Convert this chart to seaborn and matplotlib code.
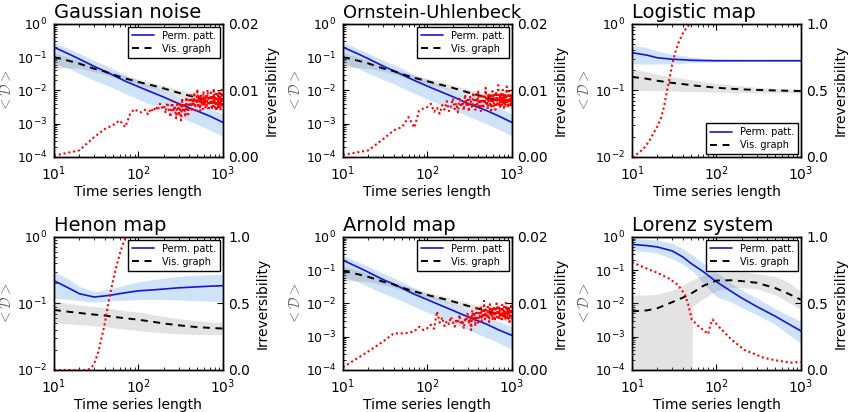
import matplotlib
matplotlib.use("Agg")
import matplotlib.pyplot as plt
import seaborn as sns
from matplotlib.ticker import FixedLocator, FormatStrFormatter, LogLocator

# ------------------------------------------------------------------ data
titles = ["Gaussian noise", "Ornstein-Uhlenbeck", "Logistic map",
          "Henon map", "Arnold map", "Lorenz system"]

x_len = [10, 15, 20, 30, 40, 50, 70, 100, 150, 200, 300, 500, 700, 1000]

# Gaussian noise
gauss_pp = [0.20, 0.125, 0.088, 0.053, 0.038, 0.029, 0.019, 0.013, 0.0085, 0.0063, 0.0040, 0.0024, 0.0017, 0.0011]
gauss_pp_lo = [0.065, 0.045, 0.032, 0.020, 0.015, 0.012, 0.008, 0.0054, 0.0035, 0.0026, 0.0016, 0.00095, 0.00065, 0.00042]
gauss_pp_hi = [0.28, 0.18, 0.13, 0.08, 0.058, 0.045, 0.029, 0.020, 0.013, 0.0098, 0.0066, 0.0041, 0.0029, 0.0020]
gauss_vg = [0.10, 0.078, 0.064, 0.045, 0.037, 0.030, 0.023, 0.018, 0.014, 0.0115, 0.0085, 0.0060, 0.0047, 0.0036]
gauss_vg_lo = [0.050, 0.048, 0.047, 0.036, 0.030, 0.025, 0.019, 0.015, 0.0115, 0.0093, 0.0068, 0.0046, 0.0036, 0.0026]
gauss_vg_hi = [0.14, 0.10, 0.080, 0.054, 0.044, 0.036, 0.028, 0.022, 0.017, 0.014, 0.0105, 0.0076, 0.0062, 0.0050]

# Ornstein-Uhlenbeck
ou_pp = [0.20, 0.127, 0.090, 0.054, 0.039, 0.030, 0.020, 0.0135, 0.0088, 0.0065, 0.0041, 0.0025, 0.0017, 0.0011]
ou_pp_lo = [0.066, 0.046, 0.033, 0.021, 0.016, 0.012, 0.0082, 0.0055, 0.0036, 0.0027, 0.0017, 0.0010, 0.00068, 0.00043]
ou_pp_hi = [0.29, 0.18, 0.13, 0.081, 0.059, 0.046, 0.030, 0.021, 0.0135, 0.010, 0.0067, 0.0042, 0.0030, 0.0020]
ou_vg = [0.10, 0.079, 0.065, 0.046, 0.038, 0.031, 0.024, 0.019, 0.0145, 0.012, 0.0088, 0.0062, 0.0049, 0.0038]
ou_vg_lo = [0.050, 0.049, 0.047, 0.037, 0.031, 0.026, 0.020, 0.0155, 0.012, 0.0096, 0.0070, 0.0048, 0.0037, 0.0027]
ou_vg_hi = [0.14, 0.10, 0.081, 0.055, 0.045, 0.037, 0.029, 0.023, 0.018, 0.0145, 0.011, 0.0078, 0.0064, 0.0052]

# Logistic map
log_pp = [0.37, 0.34, 0.31, 0.295, 0.29, 0.285, 0.282, 0.28, 0.28, 0.28, 0.28, 0.28, 0.28, 0.28]
log_pp_lo = [0.25, 0.25, 0.25, 0.255, 0.258, 0.262, 0.266, 0.27, 0.272, 0.273, 0.274, 0.275, 0.275, 0.275]
log_pp_hi = [0.48, 0.44, 0.39, 0.35, 0.335, 0.32, 0.305, 0.298, 0.293, 0.29, 0.288, 0.286, 0.285, 0.285]
log_vg = [0.16, 0.15, 0.14, 0.13, 0.125, 0.12, 0.115, 0.11, 0.106, 0.104, 0.102, 0.10, 0.099, 0.098]
log_vg_lo = [0.10, 0.10, 0.10, 0.098, 0.097, 0.096, 0.095, 0.094, 0.093, 0.093, 0.092, 0.092, 0.091, 0.091]
log_vg_hi = [0.21, 0.19, 0.175, 0.16, 0.152, 0.145, 0.135, 0.128, 0.121, 0.117, 0.112, 0.108, 0.106, 0.105]

# Henon map
hen_pp = [0.22, 0.17, 0.14, 0.125, 0.13, 0.135, 0.145, 0.155, 0.16, 0.165, 0.172, 0.178, 0.182, 0.185]
hen_pp_lo = [0.12, 0.115, 0.11, 0.105, 0.107, 0.11, 0.112, 0.115, 0.115, 0.115, 0.113, 0.11, 0.108, 0.107]
hen_pp_hi = [0.30, 0.23, 0.18, 0.15, 0.16, 0.17, 0.19, 0.21, 0.23, 0.24, 0.255, 0.265, 0.27, 0.275]
hen_vg = [0.080, 0.075, 0.072, 0.068, 0.066, 0.063, 0.060, 0.057, 0.053, 0.050, 0.047, 0.044, 0.043, 0.042]
hen_vg_lo = [0.050, 0.049, 0.048, 0.046, 0.045, 0.043, 0.041, 0.039, 0.037, 0.036, 0.035, 0.034, 0.034, 0.034]
hen_vg_hi = [0.107, 0.100, 0.095, 0.090, 0.087, 0.083, 0.078, 0.074, 0.068, 0.064, 0.059, 0.055, 0.053, 0.052]

# Arnold map
arn_pp = [0.20, 0.124, 0.087, 0.052, 0.038, 0.029, 0.019, 0.013, 0.0084, 0.0062, 0.0040, 0.0024, 0.0016, 0.0011]
arn_pp_lo = [0.064, 0.045, 0.032, 0.020, 0.015, 0.012, 0.008, 0.0054, 0.0035, 0.0026, 0.0016, 0.00095, 0.00065, 0.00042]
arn_pp_hi = [0.28, 0.18, 0.13, 0.08, 0.058, 0.045, 0.029, 0.020, 0.013, 0.0098, 0.0066, 0.0041, 0.0029, 0.0020]
arn_vg = [0.095, 0.076, 0.063, 0.045, 0.037, 0.030, 0.023, 0.018, 0.014, 0.0115, 0.0085, 0.0060, 0.0047, 0.0036]
arn_vg_lo = [0.048, 0.047, 0.046, 0.036, 0.030, 0.025, 0.019, 0.015, 0.0115, 0.0093, 0.0068, 0.0046, 0.0036, 0.0026]
arn_vg_hi = [0.13, 0.10, 0.080, 0.054, 0.044, 0.036, 0.028, 0.022, 0.017, 0.014, 0.0105, 0.0076, 0.0062, 0.0050]

# Lorenz system
lor_x = [10, 15, 20, 30, 40, 50, 52, 70, 100, 150, 200, 300, 500, 700, 1000]
lor_pp = [0.60, 0.55, 0.50, 0.38, 0.25, 0.16, 0.15, 0.09, 0.045, 0.023, 0.0145, 0.0081, 0.0041, 0.0025, 0.0015]
lor_pp_lo = [0.40, 0.36, 0.32, 0.22, 0.15, 0.10, 0.095, 0.04, 0.016, 0.011, 0.0075, 0.0046, 0.0023, 0.0012, 0.00065]
lor_pp_hi = [0.90, 0.85, 0.80, 0.65, 0.45, 0.30, 0.29, 0.16, 0.09, 0.04, 0.025, 0.0145, 0.007, 0.0045, 0.0029]
lor_vg = [0.0058, 0.0062, 0.0072, 0.011, 0.015, 0.020, 0.021, 0.034, 0.049, 0.050, 0.047, 0.042, 0.029, 0.020, 0.013]
lor_vg_lo = [1e-8, 1e-8, 1e-8, 1e-8, 1e-8, 1e-8, 0.008, 0.014, 0.024, 0.030, 0.030, 0.028, 0.018, 0.011, 0.0065]
lor_vg_hi = [0.018, 0.018, 0.019, 0.025, 0.035, 0.050, 0.052, 0.070, 0.085, 0.088, 0.088, 0.080, 0.064, 0.045, 0.023]

# irreversibility (right axis)
irr_len = list(range(10, 1001, 10))
gauss_irr = [0.0002, 0.0010, 0.0030, 0.0042, 0.0048, 0.0055, 0.0045, 0.0065, 0.0072, 0.0068,
             0.0067, 0.0071, 0.0064, 0.0073, 0.0068, 0.0076, 0.0070, 0.0080, 0.0074, 0.0078,
             0.0066, 0.0082, 0.0071, 0.0060, 0.0085, 0.0068, 0.0077, 0.0058, 0.0083, 0.0062,
             0.0079, 0.0055, 0.0088, 0.0067, 0.0081, 0.0060, 0.0090, 0.0072, 0.0064, 0.0086,
             0.0075, 0.0093, 0.0068, 0.0085, 0.0078, 0.0097, 0.0070, 0.0088, 0.0080, 0.0102,
             0.0074, 0.0091, 0.0083, 0.0069, 0.0095, 0.0079, 0.0088, 0.0072, 0.0099, 0.0081,
             0.0090, 0.0073, 0.0094, 0.0085, 0.0077, 0.0101, 0.0082, 0.0070, 0.0092, 0.0086,
             0.0078, 0.0097, 0.0084, 0.0071, 0.0093, 0.0088, 0.0076, 0.0103, 0.0081, 0.0090,
             0.0074, 0.0095, 0.0083, 0.0069, 0.0098, 0.0087, 0.0079, 0.0092, 0.0072, 0.0100,
             0.0084, 0.0077, 0.0096, 0.0070, 0.0089, 0.0082, 0.0101, 0.0075, 0.0093, 0.0085]
ou_irr = [0.0003, 0.0010, 0.0027, 0.0040, 0.0045, 0.0060, 0.0044, 0.0070, 0.0073, 0.0075,
          0.0080, 0.0068, 0.0074, 0.0065, 0.0078, 0.0071, 0.0084, 0.0069, 0.0076, 0.0088,
          0.0072, 0.0081, 0.0067, 0.0090, 0.0075, 0.0083, 0.0070, 0.0094, 0.0078, 0.0086,
          0.0068, 0.0092, 0.0080, 0.0074, 0.0097, 0.0082, 0.0071, 0.0089, 0.0079, 0.0100,
          0.0076, 0.0087, 0.0069, 0.0095, 0.0083, 0.0073, 0.0091, 0.0080, 0.0104, 0.0077,
          0.0088, 0.0072, 0.0096, 0.0084, 0.0079, 0.0093, 0.0070, 0.0087, 0.0099, 0.0081,
          0.0075, 0.0094, 0.0086, 0.0071, 0.0098, 0.0083, 0.0090, 0.0076, 0.0108, 0.0085,
          0.0079, 0.0092, 0.0073, 0.0097, 0.0084, 0.0089, 0.0077, 0.0101, 0.0082, 0.0094,
          0.0071, 0.0088, 0.0095, 0.0078, 0.0091, 0.0083, 0.0106, 0.0080, 0.0087, 0.0074,
          0.0093, 0.0085, 0.0099, 0.0078, 0.0090, 0.0082, 0.0096, 0.0076, 0.0089, 0.0084]
arn_irr = [0.0004, 0.0028, 0.0043, 0.0055, 0.0055, 0.0056, 0.0058, 0.0065, 0.0060, 0.0063,
           0.0068, 0.0062, 0.0088, 0.0071, 0.0079, 0.0066, 0.0074, 0.0069, 0.0080, 0.0072,
           0.0065, 0.0077, 0.0070, 0.0083, 0.0068, 0.0075, 0.0062, 0.0079, 0.0073, 0.0086,
           0.0069, 0.0081, 0.0060, 0.0090, 0.0074, 0.0084, 0.0066, 0.0093, 0.0078, 0.0071,
           0.0087, 0.0080, 0.0097, 0.0073, 0.0089, 0.0082, 0.0104, 0.0076, 0.0091, 0.0085,
           0.0078, 0.0095, 0.0083, 0.0072, 0.0099, 0.0086, 0.0080, 0.0093, 0.0075, 0.0088,
           0.0096, 0.0081, 0.0074, 0.0092, 0.0085, 0.0100, 0.0079, 0.0090, 0.0083, 0.0097,
           0.0076, 0.0089, 0.0094, 0.0080, 0.0087, 0.0073, 0.0098, 0.0084, 0.0091, 0.0078,
           0.0095, 0.0082, 0.0088, 0.0075, 0.0101, 0.0086, 0.0079, 0.0093, 0.0083, 0.0090,
           0.0077, 0.0096, 0.0085, 0.0072, 0.0092, 0.0087, 0.0081, 0.0099, 0.0084, 0.0089]

log_irr_x = [10, 12, 14, 16, 18, 20, 22, 24, 26, 28, 30, 32, 35, 40, 45, 50, 60, 100, 1000]
log_irr = [0.0, 0.03, 0.07, 0.12, 0.18, 0.23, 0.29, 0.38, 0.50, 0.60, 0.70, 0.77, 0.85, 0.93, 0.98, 1.0, 1.0, 1.0, 1.0]
hen_irr_x = [10, 20, 25, 28, 30, 33, 36, 40, 44, 48, 52, 56, 60, 65, 70, 75, 100, 1000]
hen_irr = [0.0, 0.0, 0.0, 0.02, 0.05, 0.12, 0.22, 0.35, 0.50, 0.62, 0.72, 0.80, 0.87, 0.94, 0.99, 1.0, 1.0, 1.0]
lor_irr_x = [10, 14, 20, 27, 35, 42, 46, 51, 61, 73, 80, 84, 90, 105, 150, 215, 370, 530, 760, 1000]
lor_irr = [0.81, 0.77, 0.73, 0.69, 0.64, 0.57, 0.50, 0.38, 0.33, 0.29, 0.27, 0.33, 0.38, 0.33, 0.23, 0.15, 0.09, 0.07, 0.055, 0.06]

legend_labels = ["Perm. patt.", "Vis. graph"]

# ------------------------------------------------------------------ style
sns.set_style("ticks")
plt.rcParams.update({
    "font.family": ["DejaVu Sans"],
    "text.color": "black",
    "axes.labelcolor": "black",
    "axes.edgecolor": "black",
    "axes.linewidth": 1.0,
    "xtick.direction": "in",
    "ytick.direction": "in",
    "xtick.major.size": 4.5,
    "ytick.major.size": 4.5,
    "xtick.minor.size": 2.2,
    "ytick.minor.size": 2.2,
    "xtick.color": "black",
    "ytick.color": "black",
    "lines.scale_dashes": False,
})

BLUE = "#1515d8"
BAND_BLUE = "#3d8ee6"
RED = "red"
DASHED = (0, (5.0, 4.0))
DOTTED = (0, (1.5, 2.0))
title_sizes = [14, 13, 14, 14, 14, 14]

fig = plt.figure(figsize=(8.57, 4.12), dpi=100)

lefts = [0.0630, 0.4002, 0.7375]
bottoms = [0.619, 0.102]
W, H = 0.197, 0.3228

panels = [
    dict(x=x_len, pp=gauss_pp, lo=gauss_pp_lo, hi=gauss_pp_hi, vg=gauss_vg, vlo=gauss_vg_lo, vhi=gauss_vg_hi,
         ix=irr_len, iv=gauss_irr, ylim=(1e-4, 1), imax=0.02, loc="upper right"),
    dict(x=x_len, pp=ou_pp, lo=ou_pp_lo, hi=ou_pp_hi, vg=ou_vg, vlo=ou_vg_lo, vhi=ou_vg_hi,
         ix=irr_len, iv=ou_irr, ylim=(1e-4, 1), imax=0.02, loc="upper right"),
    dict(x=x_len, pp=log_pp, lo=log_pp_lo, hi=log_pp_hi, vg=log_vg, vlo=log_vg_lo, vhi=log_vg_hi,
         ix=log_irr_x, iv=log_irr, ylim=(1e-2, 1), imax=1.0, loc="lower right"),
    dict(x=x_len, pp=hen_pp, lo=hen_pp_lo, hi=hen_pp_hi, vg=hen_vg, vlo=hen_vg_lo, vhi=hen_vg_hi,
         ix=hen_irr_x, iv=hen_irr, ylim=(1e-2, 1), imax=1.0, loc="upper right"),
    dict(x=x_len, pp=arn_pp, lo=arn_pp_lo, hi=arn_pp_hi, vg=arn_vg, vlo=arn_vg_lo, vhi=arn_vg_hi,
         ix=irr_len, iv=arn_irr, ylim=(1e-4, 1), imax=0.02, loc="upper right"),
    dict(x=lor_x, pp=lor_pp, lo=lor_pp_lo, hi=lor_pp_hi, vg=lor_vg, vlo=lor_vg_lo, vhi=lor_vg_hi,
         ix=lor_irr_x, iv=lor_irr, ylim=(1e-4, 1), imax=1.0, loc="upper right"),
]

for i, (title, p) in enumerate(zip(titles, panels)):
    r, c = divmod(i, 3)
    ax = fig.add_axes([lefts[c], bottoms[r], W, H])
    ax.set_xscale("log")
    ax.set_yscale("log")

    ax.fill_between(p["x"], p["lo"], p["hi"], color=BAND_BLUE, alpha=0.25, lw=0)
    ax.fill_between(p["x"], p["vlo"], p["vhi"], color="gray", alpha=0.22, lw=0)
    sns.lineplot(x=p["x"], y=p["pp"], ax=ax, color=BLUE, lw=1.2, label=legend_labels[0])
    sns.lineplot(x=p["x"], y=p["vg"], ax=ax, color="black", lw=1.4, linestyle=DASHED,
                 label=legend_labels[1])

    ax.set_xlim(10, 1000)
    ax.set_ylim(*p["ylim"])
    ax.xaxis.set_major_locator(LogLocator(base=10, numticks=10))
    ax.tick_params(axis="both", which="both", direction="in", top=True, right=False)
    ax.tick_params(axis="x", labelsize=10, pad=5)
    ax.tick_params(axis="y", labelsize=9, pad=5)
    ax.set_xlabel("Time series length", fontsize=10, labelpad=2)
    ax.set_ylabel(r"$<\mathcal{D}>$", fontsize=10.5, color="0.4", math_fontfamily="cm")
    ax.yaxis.set_label_coords(-0.24, 0.5)
    ax.set_title(title, loc="left", fontsize=title_sizes[i], pad=4)

    leg = ax.legend(loc=p["loc"], fontsize=7, frameon=True, fancybox=False, edgecolor="black",
                    framealpha=1, borderaxespad=0.3, handlelength=2.3, borderpad=0.4,
                    labelspacing=0.3)
    leg.get_frame().set_linewidth(1.0)

    ax2 = ax.twinx()
    sns.lineplot(x=p["ix"], y=p["iv"], ax=ax2, color=RED, lw=1.5, linestyle=DOTTED, legend=False)
    ax2.set_ylim(0, p["imax"])
    ax2.set_xlim(10, 1000)
    if p["imax"] < 0.5:
        ax2.yaxis.set_major_locator(FixedLocator([0.0, 0.01, 0.02]))
        ax2.yaxis.set_major_formatter(FormatStrFormatter("%.2f"))
    else:
        ax2.yaxis.set_major_locator(FixedLocator([0.0, 0.5, 1.0]))
        ax2.yaxis.set_major_formatter(FormatStrFormatter("%.1f"))
    ax2.tick_params(axis="y", direction="in", labelsize=10, pad=4)
    ax2.set_ylabel("Irreversibility", fontsize=10, labelpad=4)
    ax2.set_xlabel("")

fig.savefig("out.png", dpi=100)
